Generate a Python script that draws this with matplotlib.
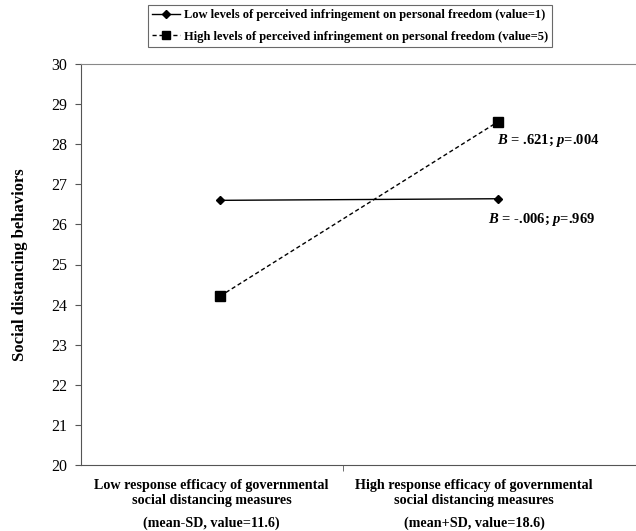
import matplotlib
matplotlib.use("Agg")
import matplotlib.pyplot as plt
from matplotlib.lines import Line2D

plt.rcParams['font.family'] = ['Liberation Serif', 'DejaVu Serif']
plt.rcParams['mathtext.fontset'] = 'custom'
plt.rcParams['mathtext.it'] = 'Liberation Serif:italic:bold'
plt.rcParams['mathtext.rm'] = 'Liberation Serif:bold'
plt.rcParams['mathtext.bf'] = 'Liberation Serif:bold'

categories = ["Low response efficacy of governmental\nsocial distancing measures\n(mean-SD, value=11.6)",
              "High response efficacy of governmental\nsocial distancing measures\n(mean+SD, value=18.6)"]
low_vals = [26.60, 26.64]
high_vals = [24.21, 28.56]
series_names = ["Low levels of perceived infringement on personal freedom (value=1)",
                "High levels of perceived infringement on personal freedom (value=5)"]
annot_high = r"$\mathit{B}$ = .621; $\mathit{p}$=.004"
annot_low = r"$\mathit{B}$ = -.006; $\mathit{p}$=.969"
yticks = list(range(20, 31))

fig = plt.figure(figsize=(6.36, 5.31), dpi=100)
ax = fig.add_axes([81/636, 66/531, 556/636, (465-64)/531])

xs = [0, 1]
ax.plot(xs, low_vals, color='black', lw=1.0, marker='D', ms=4.5, label=series_names[0])
ax.plot(xs, high_vals, color='black', lw=1.0, ls=(0, (3, 2)), marker='s', ms=7, label=series_names[1])

ax.set_xlim(-0.5, 1.5)
ax.set_ylim(20, 30)
ax.set_yticks(yticks)
ax.tick_params(axis='y', labelsize=11.5, length=4, color='#555555', pad=6)
ax.set_xticks([0.442], minor=True)
ax.tick_params(axis='x', which='minor', length=4, color='#555555')
ax.set_xticks([-0.03, 0.914])
ax.set_xticklabels([])
ax.tick_params(axis='x', which='major', length=0)
for xp, lab in zip([-0.03, 0.914], categories):
    l1, l2, l3 = lab.split("\n")
    ax.text(xp, -0.035, l1 + "\n" + l2, transform=ax.get_xaxis_transform(), ha='center', va='top',
            fontsize=10.2, fontweight='bold', linespacing=1.15)
    ax.text(xp, -0.128, l3, transform=ax.get_xaxis_transform(), ha='center', va='top',
            fontsize=10.2, fontweight='bold')

for side in ['left', 'bottom']:
    ax.spines[side].set_color('#555555')
ax.spines['top'].set_color('#888888')
ax.spines['right'].set_visible(False)

ax.set_ylabel("Social distancing behaviors", fontsize=12, fontweight='bold')
ax.yaxis.set_label_coords(-0.095, 0.5)

ax.text(0.996, 28.1, annot_high, fontsize=10.5, fontweight='bold', ha='left', va='center')
ax.text(0.964, 26.13, annot_low, fontsize=10.5, fontweight='bold', ha='left', va='center')

handles = [Line2D([0], [0], color='black', lw=1.0, marker='D', ms=4),
           Line2D([0], [0], color='black', lw=1.0, ls=(0, (3, 2)), marker='s', ms=6)]
leg = fig.legend(handles, series_names, loc='upper center', bbox_to_anchor=(350/636, 1 - 5/531),
                 frameon=True, fancybox=False, edgecolor='#444444',
                 prop={'weight': 'bold', 'size': 9}, handlelength=2.2, handletextpad=0.3,
                 borderpad=0.35, labelspacing=0.75, borderaxespad=0)
leg.get_frame().set_linewidth(0.8)

fig.savefig("out.png", dpi=100)
